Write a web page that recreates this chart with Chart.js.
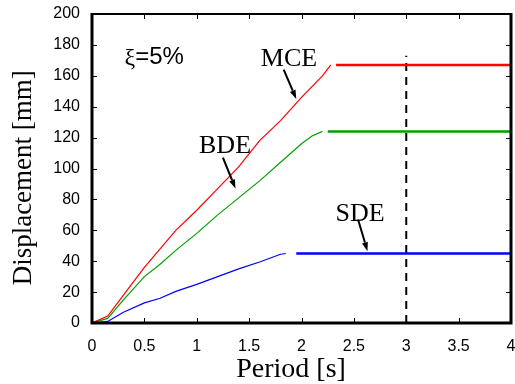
<!DOCTYPE html>
<html>
<head>
<meta charset="utf-8">
<script src="https://cdn.jsdelivr.net/npm/chart.js@4.4.0/dist/chart.umd.min.js"></script>
<style>
  html, body { margin: 0; padding: 0; background: #fff; }
  canvas { display: block; }
</style>
</head>
<body>
<canvas id="myChart" width="515" height="384"></canvas>
<script>
// Spectrum data (period in s, displacement in mm)
const mcePeriod = [0, 0.15, 0.3, 0.5, 0.65, 0.8, 1.0, 1.2, 1.4, 1.6, 1.8, 2.0, 2.2, 2.28];
const mceDisp   = [0, 4.5, 18, 36, 48, 60, 73, 87, 101, 118, 131, 146, 160, 167];
const bdePeriod = [0, 0.15, 0.3, 0.5, 0.65, 0.8, 1.0, 1.2, 1.4, 1.6, 1.8, 2.0, 2.1, 2.2];
const bdeDisp   = [0, 3, 15, 30, 38, 47, 58, 70, 81, 92, 104, 116, 121, 124];
const sdePeriod = [0, 0.15, 0.3, 0.5, 0.65, 0.8, 1.0, 1.2, 1.4, 1.6, 1.8, 1.85];
const sdeDisp   = [0, 1, 7, 13, 16, 20.5, 25, 30, 35, 39.5, 44.5, 45];

// constant displacement plateaus
const mcePlateau = { from: 2.33, to: 4, value: 167 };
const bdePlateau = { from: 2.25, to: 4, value: 124 };
const sdePlateau = { from: 1.95, to: 4, value: 45 };

// dashed marker at T = 3 s
const markerPeriod = 3;
const markerTop = 173;

const xTicks = [0, 0.5, 1, 1.5, 2, 2.5, 3, 3.5, 4];
const yTicks = [0, 20, 40, 60, 80, 100, 120, 140, 160, 180, 200];

const xTitle = 'Period [s]';
const yTitle = 'Displacement [mm]';

const toPoints = (xs, ys) => xs.map((x, i) => ({ x: x, y: ys[i] }));
const plateau = p => [{ x: p.from, y: p.value }, { x: p.to, y: p.value }];

// annotations: text placed at data coords, arrows tail -> head
const labels = [
    { text: 'MCE', x: 1.88, y: 171, tail: [1.83, 164], head: [1.95, 145] },
    { text: 'BDE', x: 1.27, y: 114.5, tail: [1.25, 107], head: [1.37, 87] },
    { text: 'SDE', x: 2.56, y: 70.5, tail: [2.54, 67], head: [2.63, 46.5] }
];

const serif = '"Liberation Serif", "DejaVu Serif", serif';
const sans = '"Liberation Sans", Arial, sans-serif';

const framePlugin = {
    id: 'frame',
    afterDatasetsDraw(chart) {
        const { ctx, chartArea: a, scales } = chart;
        const xs = scales.x, ys = scales.y;
        ctx.save();
        ctx.strokeStyle = '#000';
        ctx.lineCap = 'butt';

        // inward tick marks
        ctx.lineWidth = 1;
        ctx.beginPath();
        xTicks.forEach(v => {
            const px = Math.round(xs.getPixelForValue(v)) + 0.5;
            ctx.moveTo(px, a.bottom); ctx.lineTo(px, a.bottom - 5);
            ctx.moveTo(px, a.top); ctx.lineTo(px, a.top + 5);
        });
        yTicks.forEach(v => {
            const py = Math.round(ys.getPixelForValue(v)) + 0.5;
            ctx.moveTo(a.left, py); ctx.lineTo(a.left + 5, py);
            ctx.moveTo(a.right, py); ctx.lineTo(a.right - 5, py);
        });
        ctx.stroke();

        // box
        ctx.lineWidth = 2;
        ctx.beginPath();
        ctx.moveTo(a.left, a.top); ctx.lineTo(a.right, a.top);
        ctx.stroke();
        ctx.lineWidth = 3;
        ctx.beginPath();
        ctx.moveTo(a.left, a.top - 1); ctx.lineTo(a.left, a.bottom);
        ctx.lineTo(a.right, a.bottom); ctx.lineTo(a.right, a.top - 1);
        ctx.stroke();

        ctx.fillStyle = '#000';
        ctx.textBaseline = 'middle';

        // axis titles (the source figure has them a little off-centre)
        ctx.font = '28px ' + serif;
        ctx.textAlign = 'center';
        ctx.fillText(xTitle, xs.getPixelForValue(1.9), a.bottom + 47);
        ctx.save();
        ctx.translate(24, ys.getPixelForValue(94));
        ctx.rotate(-Math.PI / 2);
        ctx.font = '27px ' + serif;
        ctx.fillText(yTitle, 0, 0);
        ctx.restore();

        // damping label
        const dx = xs.getPixelForValue(0.31), dy = ys.getPixelForValue(172);
        ctx.textAlign = 'left';
        ctx.font = '24px ' + serif;
        ctx.fillText('\u03BE', dx, dy + 1);
        const w = ctx.measureText('\u03BE').width;
        ctx.font = '24px ' + sans;
        ctx.fillText('=5%', dx + w, dy);

        // curve labels with arrows
        labels.forEach(l => {
            ctx.font = '26px ' + serif;
            ctx.textAlign = 'center';
            ctx.fillText(l.text, xs.getPixelForValue(l.x), ys.getPixelForValue(l.y));
            const tx = xs.getPixelForValue(l.tail[0]), ty = ys.getPixelForValue(l.tail[1]);
            const hx = xs.getPixelForValue(l.head[0]), hy = ys.getPixelForValue(l.head[1]);
            const ang = Math.atan2(hy - ty, hx - tx);
            const len = 9, half = 3;
            const bx = hx - len * Math.cos(ang), by = hy - len * Math.sin(ang);
            ctx.lineWidth = 2;
            ctx.beginPath();
            ctx.moveTo(tx, ty); ctx.lineTo(bx, by);
            ctx.stroke();
            ctx.beginPath();
            ctx.moveTo(hx, hy);
            ctx.lineTo(bx + half * Math.sin(ang), by - half * Math.cos(ang));
            ctx.lineTo(bx - half * Math.sin(ang), by + half * Math.cos(ang));
            ctx.closePath();
            ctx.fill();
        });
        ctx.restore();
    }
};

const thin = (data, color) => ({
    data: data, borderColor: color, borderWidth: 1.2, pointRadius: 0,
    tension: 0, fill: false, showLine: true
});
const thick = (data, color) => ({
    data: data, borderColor: color, borderWidth: 2.5, pointRadius: 0,
    tension: 0, fill: false, showLine: true
});

const ctx = document.getElementById('myChart');
new Chart(ctx, {
    type: 'scatter',
    data: {
        datasets: [
            thin(toPoints(mcePeriod, mceDisp), '#ff0000'),
            thick(plateau(mcePlateau), '#ff0000'),
            thin(toPoints(bdePeriod, bdeDisp), '#00a000'),
            thick(plateau(bdePlateau), '#00a000'),
            thin(toPoints(sdePeriod, sdeDisp), '#0000ff'),
            thick(plateau(sdePlateau), '#0000ff'),
            {
                data: [{ x: markerPeriod, y: 0 }, { x: markerPeriod, y: markerTop }],
                borderColor: '#000', borderWidth: 2, borderDash: [8, 6],
                pointRadius: 0, showLine: true
            }
        ]
    },
    options: {
        responsive: false,
        animation: false,
        layout: { padding: { left: 0, right: 4, top: 14, bottom: 0 } },
        plugins: {
            legend: { display: false },
            tooltip: { enabled: false }
        },
        scales: {
            x: {
                type: 'linear',
                min: 0, max: 4,
                afterBuildTicks: s => { s.ticks = xTicks.map(v => ({ value: v })); },
                afterFit: s => { s.height = 61; s.paddingRight = 0; s.paddingLeft = 0; },
                grid: { display: false },
                border: { display: false },
                ticks: {
                    color: '#000', padding: 6,
                    font: { family: sans, size: 16 },
                    maxRotation: 0,
                    callback: v => String(v)
                },
                title: { display: false }
            },
            y: {
                min: 0, max: 200,
                afterBuildTicks: s => { s.ticks = yTicks.map(v => ({ value: v })); },
                afterFit: s => { s.width = 92; },
                grid: { display: false },
                border: { display: false },
                ticks: {
                    color: '#000', padding: 4,
                    font: { family: sans, size: 16 }
                },
                title: { display: false }
            }
        }
    },
    plugins: [framePlugin]
});
</script>
</body>
</html>
